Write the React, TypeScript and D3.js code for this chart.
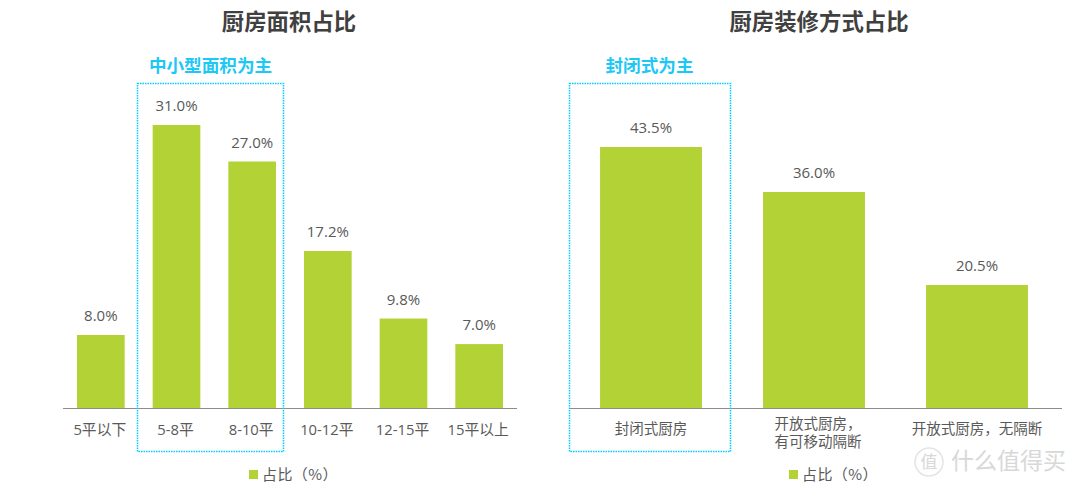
import React from "react";
import * as d3 from "d3";

const areaCategories = ["5平以下", "5-8平", "8-10平", "10-12平", "12-15平", "15平以上"];
const areaValues = [8.0, 31.0, 27.0, 17.2, 9.8, 7.0];
const styleCategories = [["封闭式厨房"], ["开放式厨房，", "有可移动隔断"], ["开放式厨房，无隔断"]];
const styleKeys = ["a", "b", "c"];
const styleValues = [43.5, 36.0, 20.5];
const titles = ["厨房面积占比", "厨房装修方式占比"];
const callouts = ["中小型面积为主", "封闭式为主"];
const legendLabel = "占比（%）";

const BAR = "#b2d235";
const TXT = "#595959";
const CYAN = "#00d0ff";
const FONT = "'Noto Sans CJK SC','Noto Sans',sans-serif";
const NUMFONT = "'Open Sans','Noto Sans CJK SC',sans-serif";
const BASE = 408;

const xArea = d3.scaleBand<string>().domain(areaCategories).range([63, 517]).paddingInner(0.37).paddingOuter(0.185);
const yArea = d3.scaleLinear().domain([0, 31]).range([BASE, 125]);
const xStyle = d3.scaleBand<string>().domain(styleKeys).range([569.5, 1058.5]).paddingInner(0.375).paddingOuter(0.1875);
const yStyle = d3.scaleLinear().domain([0, 43.5]).range([BASE, 147]);
const pct = d3.format(".1f");

const Legend = ({ x }: { x: number }) => (
  <g>
    <rect x={x} y={470} width={9} height={9} fill={BAR} />
    <text x={x + 13} y={480} fontSize={15} fill={TXT} fontFamily={FONT} letterSpacing={0.4}>{legendLabel}</text>
  </g>
);

export default function App() {
  return (
    <svg width={1080} height={489} style={{ position: "absolute", left: 0, top: 0, background: "#fff" }}>
      <text x={289} y={30} textAnchor="middle" fontSize={22.4} fontWeight={700} fill="#404040" fontFamily={FONT}>{titles[0]}</text>
      <text x={819} y={30} textAnchor="middle" fontSize={22.4} fontWeight={700} fill="#404040" fontFamily={FONT}>{titles[1]}</text>
      <text x={210.5} y={72} textAnchor="middle" fontSize={17.6} fontWeight={700} fill="#1cc8f5" fontFamily={FONT}>{callouts[0]}</text>
      <text x={649.5} y={72} textAnchor="middle" fontSize={17.6} fontWeight={700} fill="#1cc8f5" fontFamily={FONT}>{callouts[1]}</text>

      {areaCategories.map((c, i) => (
        <g key={c}>
          <rect x={xArea(c)} y={yArea(areaValues[i])} width={xArea.bandwidth()} height={BASE - yArea(areaValues[i])} fill={BAR} />
          <text x={xArea(c)! + xArea.bandwidth() / 2} y={yArea(areaValues[i]) - 14} textAnchor="middle" fontSize={15} fill={TXT} fontFamily={NUMFONT}>{pct(areaValues[i])}%</text>
          <text x={xArea(c)! + xArea.bandwidth() / 2 - 1} y={435} textAnchor="middle" fontSize={14.8} fill={TXT} fontFamily={NUMFONT}>{c}</text>
        </g>
      ))}
      {styleKeys.map((k, i) => (
        <g key={k}>
          <rect x={xStyle(k)} y={yStyle(styleValues[i])} width={xStyle.bandwidth()} height={BASE - yStyle(styleValues[i])} fill={BAR} />
          <text x={xStyle(k)! + xStyle.bandwidth() / 2} y={yStyle(styleValues[i]) - 14} textAnchor="middle" fontSize={15} fill={TXT} fontFamily={NUMFONT}>{pct(styleValues[i])}%</text>
          <text textAnchor="middle" fontSize={14.5} fill={TXT} fontFamily={FONT}>
            {styleCategories[i].map((line, j) => (
              <tspan key={j} x={xStyle(k)! + xStyle.bandwidth() / 2 + (styleCategories[i].length > 1 ? 4 : 0)} y={styleCategories[i].length > 1 ? 429 + j * 18 : 434}>{line}</tspan>
            ))}
          </text>
        </g>
      ))}
      <line x1={63} x2={517} y1={BASE + 0.5} y2={BASE + 0.5} stroke="#8c8c8c" strokeWidth={1} />
      <line x1={569} x2={1062} y1={BASE + 0.5} y2={BASE + 0.5} stroke="#8c8c8c" strokeWidth={1} />

      <rect x={137.5} y={83.5} width={146} height={368} fill="none" stroke={CYAN} strokeWidth={1.5} strokeDasharray="1.5 1" />
      <rect x={569.5} y={83.5} width={161} height={368} fill="none" stroke={CYAN} strokeWidth={1.5} strokeDasharray="1.5 1" />

      <Legend x={249} />
      <Legend x={789} />

      <g opacity={0.9}>
        <circle cx={929} cy={462} r={14} fill="none" stroke="#e2e2e2" strokeWidth={1.5} />
        <text x={929} y={468} textAnchor="middle" fontSize={17} fill="#d4d4d4" fontFamily={FONT}>值</text>
        <text x={951} y={469} fontSize={23} fill="#d4d4d4" fontFamily={FONT}>什么值得买</text>
      </g>
    </svg>
  );
}
